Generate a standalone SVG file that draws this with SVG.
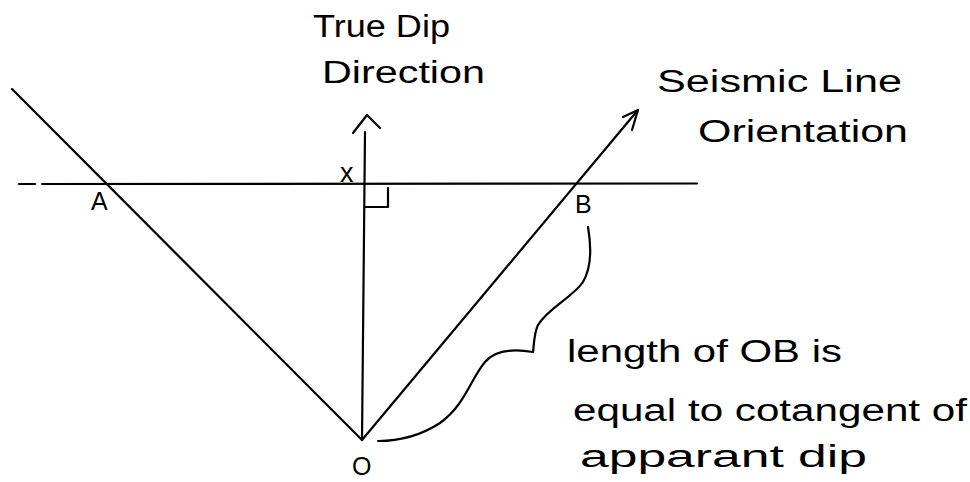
<svg xmlns="http://www.w3.org/2000/svg" width="970" height="482" viewBox="0 0 970 482">
<style>
.ln{fill:none;stroke:#000;stroke-width:2.2;stroke-linecap:round;stroke-linejoin:round}
.t{font-family:"Liberation Sans",Arial,sans-serif;fill:#000}
.lbl{font-size:25px}
.big{font-size:31px}
</style>
<rect width="970" height="482" fill="#fff"/>
<g id="connectors">
  <line class="ln" x1="12" y1="89" x2="362" y2="440"/>
  <line class="ln" x1="19" y1="184" x2="35" y2="184"/>
  <line class="ln" x1="42" y1="184" x2="697" y2="183.5"/>
  <line class="ln" x1="365" y1="132" x2="362" y2="440"/>
  <polyline class="ln" points="353,133 367,115 380,128"/>
  <line class="ln" x1="362" y1="440" x2="638" y2="110"/>
  <polyline class="ln" points="623,117 638,110 632,130"/>
  <polyline class="ln" points="365,207 388,207 388,188"/>
  <path class="ln" stroke-width="2.6" d="M588 227 C592 250,590 270,583 282 C572 298,548 308,538 325 C534 333,534 345,533 352"/>
  <path class="ln" stroke-width="2.6" d="M533 352 C515 349,495 350,485 362 C470 380,465 405,440 423 C420 436,400 441,378 441"/>
</g>
<g id="true-dip">
  <text class="t big" x="313" y="37" textLength="137" lengthAdjust="spacingAndGlyphs">True Dip</text>
  <text class="t big" x="322" y="83" textLength="163" lengthAdjust="spacingAndGlyphs">Direction</text>
</g>
<g id="seismic-line">
  <text class="t big" x="657" y="92" textLength="245" lengthAdjust="spacingAndGlyphs">Seismic Line</text>
  <text class="t big" x="698" y="142" textLength="210" lengthAdjust="spacingAndGlyphs">Orientation</text>
</g>
<g id="label-x"><text class="t" font-size="27" x="340" y="182">x</text></g>
<g id="label-A"><text class="t lbl" x="91" y="210">A</text></g>
<g id="label-B"><text class="t lbl" x="575" y="213">B</text></g>
<g id="label-O"><text class="t lbl" x="352" y="475">O</text></g>
<g id="note">
  <text class="t big" x="567" y="362" textLength="275" lengthAdjust="spacingAndGlyphs">length of OB is</text>
  <text class="t big" x="573" y="421" textLength="394" lengthAdjust="spacingAndGlyphs">equal to cotangent of</text>
  <text class="t big" x="580" y="467" textLength="287" lengthAdjust="spacingAndGlyphs">apparant dip</text>
</g>
</svg>
